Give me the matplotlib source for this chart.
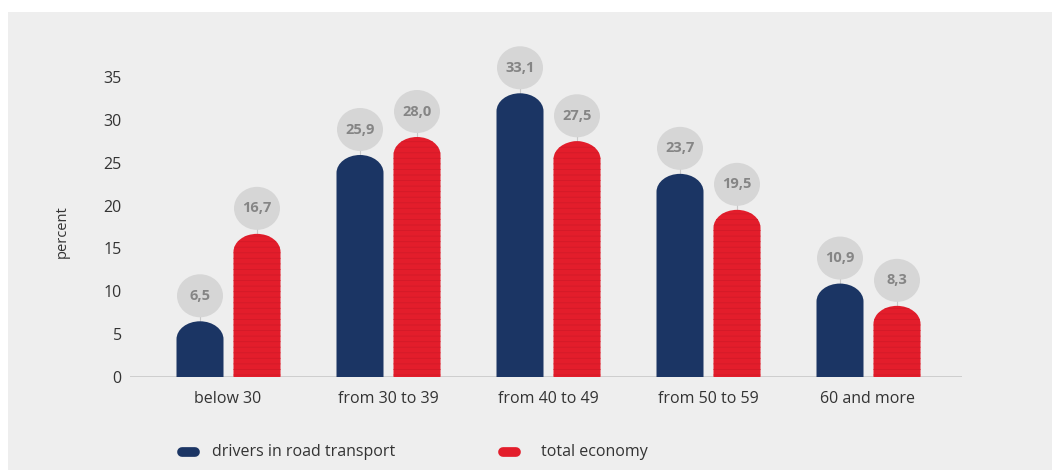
import matplotlib
matplotlib.use("Agg")
import matplotlib.pyplot as plt
from matplotlib.path import Path
from matplotlib.patches import PathPatch, Ellipse, Rectangle
from matplotlib.lines import Line2D

plt.rcParams['font.family'] = ['Open Sans', 'DejaVu Sans']
plt.rcParams['hatch.linewidth'] = 0.6

categories = ["below 30", "from 30 to 39", "from 40 to 49", "from 50 to 59", "60 and more"]
drivers = [6.5, 25.9, 33.1, 23.7, 10.9]
economy = [16.7, 28.0, 27.5, 19.5, 8.3]
series_names = ["drivers in road transport", "total economy"]
yticks = [0, 5, 10, 15, 20, 25, 30, 35]

BLUE = "#1b3564"
RED = "#e31d2b"
BG = "#eeeeee"

W, H = 1052, 470
fig = plt.figure(figsize=(W / 100, H / 100), dpi=100)
fig.patch.set_facecolor("white")
fig.patches.append(Rectangle((8 / W, 0), 1, (H - 12) / H, transform=fig.transFigure,
                             facecolor=BG, edgecolor="none", zorder=-10))

# axes placed in pixel terms: zero line at y=377, category pitch 160 px
left_px, right_px = 130, 962
zero_px, ymax = 377, 40.0
ppu_y = 300 / 35.0
top_px = zero_px - ymax * ppu_y
ax = fig.add_axes([left_px / W, (H - zero_px) / H, (right_px - left_px) / W, (zero_px - top_px) / H])
ax.set_facecolor("none")
x0_px, pitch = 228, 160.0
ax.set_xlim((left_px - x0_px) / pitch, (right_px - x0_px) / pitch)
ax.set_ylim(0, ymax)
for s in ax.spines.values():
    s.set_visible(False)

ppu_x = pitch
bar_w = 47 / ppu_x
offsets = (-28 / ppu_x, 29 / ppu_x)
cap_px = 18


def rounded_bar(xc, h, color, hatch=None):
    rx = bar_w / 2
    ry = min(cap_px / ppu_y, h)
    k = 0.5523
    xl, xr = xc - rx, xc + rx
    verts = [(xl, 0), (xl, h - ry),
             (xl, h - ry + k * ry), (xc - k * rx, h), (xc, h),
             (xc + k * rx, h), (xr, h - ry + k * ry), (xr, h - ry),
             (xr, 0), (xl, 0)]
    codes = [Path.MOVETO, Path.LINETO,
             Path.CURVE4, Path.CURVE4, Path.CURVE4,
             Path.CURVE4, Path.CURVE4, Path.CURVE4,
             Path.LINETO, Path.CLOSEPOLY]
    p = PathPatch(Path(verts, codes), facecolor=color, edgecolor="#d21a28" if hatch else color,
                  linewidth=0, hatch=hatch, zorder=3)
    ax.add_patch(p)


def bubble(xc, h):
    gap = 4 / ppu_y
    eh = 43 / ppu_y
    ew = 46 / ppu_x
    cy = h + gap + eh / 2
    ax.plot([xc, xc], [h, h + gap + 1 / ppu_y], color="#c8c8c8", lw=0.8, zorder=2)
    ax.add_patch(Ellipse((xc, cy), ew, eh, facecolor="#d6d6d6", edgecolor="none", zorder=3))
    ax.text(xc, cy, f"{h:.1f}".replace(".", ","), ha="center", va="center",
            fontsize=10.5, fontweight="bold", color="#858585", zorder=4)


for i, (d, e) in enumerate(zip(drivers, economy)):
    rounded_bar(i + offsets[0], d, BLUE)
    rounded_bar(i + offsets[1], e, RED, hatch="---")
    bubble(i + offsets[0], d)
    bubble(i + offsets[1], e)

ax.axhline(0, color="#c8c8c8", lw=1.2, zorder=1)

ax.set_yticks(yticks)
ax.set_yticklabels([str(t) for t in yticks], fontsize=11.5, color="#333333")
ax.tick_params(axis="y", length=0, pad=6)
ax.set_xticks(range(len(categories)))
ax.set_xticklabels(categories, fontsize=11.5, color="#333333")
ax.tick_params(axis="x", length=0, pad=10)

fig.text(62 / W, 1 - 232 / H, "percent", rotation=90, ha="center", va="center",
         fontsize=10.5, color="#333333")

# legend row
leg_y = 1 - 452 / H
fig.lines.append(Line2D([182 / W, 195 / W], [leg_y, leg_y], transform=fig.transFigure,
                        color=BLUE, lw=7, solid_capstyle="round"))
fig.text(212 / W, leg_y, series_names[0], ha="left", va="center", fontsize=11.5, color="#333333")
fig.lines.append(Line2D([503 / W, 516 / W], [leg_y, leg_y], transform=fig.transFigure,
                        color=RED, lw=7, solid_capstyle="round"))
fig.text(541 / W, leg_y, series_names[1], ha="left", va="center", fontsize=11.5, color="#333333")

fig.savefig("out.png", dpi=100, facecolor=fig.get_facecolor())
